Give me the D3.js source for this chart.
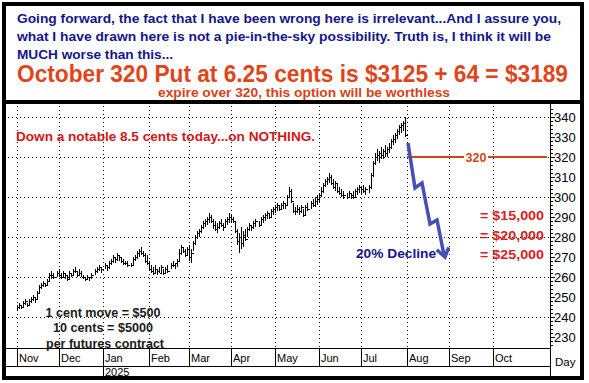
<!DOCTYPE html>
<html><head><meta charset="utf-8">
<script src="https://cdn.jsdelivr.net/npm/d3@7"></script>
<style>body{margin:0;background:#fff}svg{display:block}text{font-family:"Liberation Sans",Arial,sans-serif}</style>
</head><body><svg id="c" width="589" height="383"></svg>
<script>
// ---------- data ----------
const firstDay = "2024-11-01";
const lastBarDay = "2025-07-31";
const axisEndDay = "2025-11-10";
const holidays = ["2024-11-28","2024-12-25","2025-01-01","2025-01-20","2025-02-17","2025-04-18","2025-05-26","2025-06-19","2025-07-04"];
const monthLabels = ["Nov","Dec","Jan","Feb","Mar","Apr","May","Jun","Jul","Aug","Sep","Oct"];
const yearLabel = "2025";
const yTicks = [230,240,250,260,270,280,290,300,310,320,330,340];
const gridY = [240,260,280,300,320,340];

const hi = [246,247,246,248,249,247,249,250,251,250,253,256,257,258,257,259,262,263,262,263,
 264,262,263,262,261,263,262,264,265,263,264,263,261,260,261,260,262,264,265,266,265,
 267,266,268,269,271,270,272,271,270,269,268,268,267,270,271,273,274,275,273,272,271,
 268,266,265,266,264,265,266,264,265,266,267,268,267,269,274,276,275,274,275,
 276,274,278,281,283,284,286,288,289,290,292,291,289,288,287,288,289,287,289,290,292,
 291,290,288,284,282,285,283,284,285,287,286,288,289,288,290,291,292,293,292,294,295,
 296,297,296,297,298,297,301,305,304,297,295,296,295,296,294,296,297,298,299,300,301,
 302,305,307,309,310,312,311,309,308,307,305,304,303,302,303,302,303,304,305,306,
 305,306,305,306,312,318,322,324,323,325,324,326,325,327,329,331,332,334,336,337,338,340];
const lo = [243,244,244,245,246,245,246,247,248,247,249,252,254,255,255,256,258,259,259,260,
 260,259,260,259,258,259,260,261,262,260,261,260,259,258,259,258,259,261,262,263,262,
 264,263,264,266,267,267,268,268,267,266,266,265,265,266,268,269,270,271,270,267,266,
 263,262,261,262,261,262,262,261,262,262,264,265,264,265,268,271,272,270,271,
 268,267,273,276,279,280,282,284,285,286,287,287,284,283,282,284,285,283,285,286,287,
 287,287,282,276,272,274,275,278,280,283,283,284,285,285,286,287,288,289,289,290,291,
 292,293,293,294,294,294,296,300,297,292,291,292,291,292,290,291,293,294,295,295,296,
 297,300,302,305,306,307,306,304,303,302,301,300,299,299,300,299,299,300,301,302,
 301,302,301,302,304,310,316,318,317,319,319,320,320,322,324,326,327,329,331,332,333,330];
const cl = [245,246,245,247,248,246,248,249,250,249,252,255,256,257,256,258,261,261,260,262,
 261,260,262,261,259,262,261,263,263,261,262,260,260,259,260,260,261,263,264,265,264,
 266,265,267,268,270,269,271,270,268,267,267,266,266,269,270,272,273,272,271,268,267,
 264,263,262,264,263,262,265,262,264,263,266,266,267,268,272,275,273,271,274,
 270,272,277,280,282,283,285,287,288,289,290,288,286,284,285,287,286,285,288,289,290,
 289,288,283,278,280,277,281,279,284,286,285,287,288,286,289,290,291,292,290,293,294,
 295,296,294,296,297,296,300,303,298,293,293,294,293,295,291,295,294,297,296,298,299,
 301,303,306,308,309,310,307,305,307,303,302,301,301,300,302,301,300,303,304,305,
 304,303,304,305,311,317,320,321,322,321,323,322,324,325,328,329,331,333,335,336,337,331];

// projected path (weekday index from Nov 1 2024, price)
const arrowIdx = [195.5,199,202.5,206.5,210,213.5];
const arrowPrice = [327,304.5,307,286.5,288.5,271];
const strikePrice = 320;
const strikeIdx = [195,265];
const strikeLabelIdx = 229.5;

const titleLines = [
 "Going forward, the fact that I have been wrong here is irrelevant...And I assure you,",
 "what I have drawn here is not a pie-in-the-sky possibility. Truth is, I think it will be",
 "MUCH worse than this..."];
const headline = "October 320 Put at 6.25 cents is $3125 + 64 = $3189";
const subline = "expire over 320, this option will be worthless";
const noteRed = "Down a notable 8.5 cents today...on NOTHING.";
const noteBlack = ["1 cent move = $500","10 cents = $5000","per futures contract"];
const declineLabel = "20% Decline";
const dollarLabels = ["= $15,000","= $20,000","= $25,000"];

// ---------- calendar (weekday index) ----------
const parse = d3.utcParse("%Y-%m-%d"), fmt = d3.utcFormat("%Y-%m-%d");
const d0 = parse(firstDay);
const allWeekdays = d3.utcDays(d0, d3.utcDay.offset(parse(axisEndDay),1)).filter(d => d.getUTCDay()!==0 && d.getUTCDay()!==6);
const widx = new Map(allWeekdays.map((d,i)=>[fmt(d),i]));
const hol = new Set(holidays);
const tradeDays = allWeekdays.filter(d => d <= parse(lastBarDay) && !hol.has(fmt(d)));
const bars = tradeDays.map((d,i)=>({i:widx.get(fmt(d)), h:hi[i], l:lo[i], c:cl[i]})).filter(b=>b.h!==undefined);
const monthStarts = d3.utcMonths(d0, parse("2025-10-02")).map(m => {
  const f = allWeekdays.find(d => d >= m); return widx.get(fmt(f));
});

// ---------- scales ----------
const x = d3.scaleLinear().domain([0,238]).range([17,493]);
const y = d3.scaleLinear().domain([224.5,346.5]).range([348,104]);
const svg = d3.select("#c");
const px = v => Math.round(v)+0.5;

svg.append("rect").attr("width",589).attr("height",383).attr("fill","#fff");

// grid
const g = svg.append("g").attr("stroke","#000").attr("stroke-width",1).attr("stroke-dasharray","1,3");
g.selectAll(".gh").data(gridY).join("line").attr("x1",8).attr("x2",549)
 .attr("y1",d=>px(y(d))).attr("y2",d=>px(y(d)));
g.selectAll(".gv").data(monthStarts).join("line").attr("y1",106).attr("y2",348)
 .attr("x1",d=>px(x(d))).attr("x2",d=>px(x(d)));

// price bars
const b = svg.append("g").attr("stroke","#000").attr("stroke-width",1).attr("shape-rendering","crispEdges");
b.selectAll(".bar").data(bars).join("line").attr("x1",d=>px(x(d.i))).attr("x2",d=>px(x(d.i)))
 .attr("y1",d=>y(d.h)).attr("y2",d=>y(d.l));
b.selectAll(".cl").data(bars).join("line").attr("x1",d=>px(x(d.i))).attr("x2",d=>px(x(d.i))+2)
 .attr("y1",d=>px(y(d.c))).attr("y2",d=>px(y(d.c)));

// right axis
const ax = svg.append("g").attr("shape-rendering","crispEdges");
ax.append("line").attr("x1",550.5).attr("x2",550.5).attr("y1",104).attr("y2",377).attr("stroke","#000");
const minor = d3.range(226,346,2);
ax.selectAll(".mt").data(minor).join("line").attr("x1",551).attr("x2",d=>d%10===0?555:553)
 .attr("y1",d=>px(y(d))).attr("y2",d=>px(y(d))).attr("stroke","#000");
ax.selectAll(".yl").data(yTicks).join("text").attr("x",554).attr("y",d=>y(d)+5)
 .attr("font-size",13).attr("fill","#000").text(d=>d);
ax.append("text").attr("x",555).attr("y",366).attr("font-size",11.5).text("Day");

// bottom axis
ax.append("line").attr("x1",6).attr("x2",550).attr("y1",348.5).attr("y2",348.5).attr("stroke","#000");
ax.append("line").attr("x1",6).attr("x2",550).attr("y1",366.5).attr("y2",366.5).attr("stroke","#000");
ax.selectAll(".mtk").data(monthStarts).join("line").attr("x1",d=>px(x(d))).attr("x2",d=>px(x(d)))
 .attr("y1",349).attr("y2",(d,i)=>i===2?377:366).attr("stroke","#000");
ax.selectAll(".ml").data(monthStarts).join("text").attr("x",d=>x(d)+2).attr("y",362)
 .attr("font-size",11).text((d,i)=>monthLabels[i]);
ax.append("text").attr("x",x(monthStarts[2])+2).attr("y",376).attr("font-size",11).text(yearLabel);

// strike line
svg.append("line").attr("x1",x(strikeIdx[0])).attr("x2",x(strikeIdx[1])).attr("y1",y(strikePrice)).attr("y2",y(strikePrice))
 .attr("stroke","#c84818").attr("stroke-width",2);
svg.append("rect").attr("x",x(strikeLabelIdx)-12).attr("y",y(strikePrice)-6).attr("width",24).attr("height",12).attr("fill","#fff");
svg.append("text").attr("x",x(strikeLabelIdx)).attr("y",y(strikePrice)+4.5).attr("text-anchor","middle")
 .attr("font-size",12.5).attr("font-weight","bold").attr("fill","#d04a18").text(strikePrice);

// arrow path
const pts = arrowIdx.map((v,i)=>[x(v),y(arrowPrice[i])]);
svg.append("path").attr("d",d3.line()(pts)).attr("fill","none").attr("stroke","#4450b4").attr("stroke-width",3.5)
 .attr("stroke-linejoin","miter");
const [ex,ey] = pts[pts.length-1], [sx,sy] = pts[pts.length-2];
const ang = Math.atan2(ey-sy, ex-sx);
const wing = (a)=>[ex - 9*Math.cos(ang+a), ey - 9*Math.sin(ang+a)];
svg.append("path").attr("d",d3.line()([wing(0.75),[ex+1,ey+2],wing(-0.75)])).attr("fill","none")
 .attr("stroke","#4450b4").attr("stroke-width",3.5);

// texts
const T = (t,xx,yy,size,color,len,anchor)=>{
  const e = svg.append("text").attr("x",xx).attr("y",yy).attr("font-size",size).attr("font-weight","bold")
   .attr("fill",color).text(t);
  if(anchor) e.attr("text-anchor",anchor);
  if(len) e.attr("textLength",len).attr("lengthAdjust","spacingAndGlyphs");
  return e;
};
T(titleLines[0],17,23,13,"#14148c",544);
T(titleLines[1],17,41,13,"#14148c",534);
T(titleLines[2],17,59,13,"#14148c",156);
T(headline,17,82,23,"#e2441a",551);
T(subline,158,96.5,12,"#d8401a",292);
T(noteRed,16,141,13,"#d01818",299);
T(noteBlack[0],103,317,12.5,"#1a1a1a",115,"middle");
T(noteBlack[1],103,332,12.5,"#1a1a1a",100,"middle");
T(noteBlack[2],105,348,12.5,"#1a1a1a",118,"middle");
T(declineLabel,356,258,13,"#14148c",80);
dollarLabels.forEach((t,i)=>T(t,480,220+i*19.5,13,"#d82020",64));

// frame
svg.append("rect").attr("x",4).attr("y",4).attr("width",578).attr("height",374).attr("fill","none")
 .attr("stroke","#000").attr("stroke-width",4);
svg.append("line").attr("x1",4).attr("x2",582).attr("y1",102).attr("y2",102).attr("stroke","#000").attr("stroke-width",4);
</script></body></html>
